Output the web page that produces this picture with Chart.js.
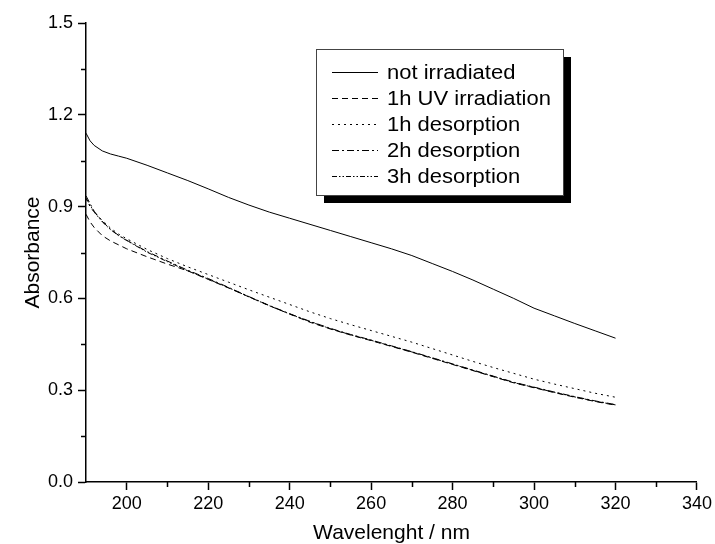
<!DOCTYPE html>
<html lang="en">
<head>
    <meta charset="UTF-8">
    <title>Absorbance spectra</title>
    <script src="https://cdn.jsdelivr.net/npm/chart.js"></script>
    <style>
        html, body { margin: 0; padding: 0; background: #fff; }
        #wrap { width: 715px; height: 544px; }
    </style>
</head>
<body>
    <div id="wrap"><canvas id="absChart" width="715" height="544"></canvas></div>

    <script>
        const wavelength = [190, 191, 192, 194, 196, 198, 200, 205, 210, 215, 220, 225, 230, 235, 240,
                            245, 250, 255, 260, 265, 270, 275, 280, 285, 290, 295, 300, 305, 310, 315, 320];

        const notIrradiated = [1.14, 1.115, 1.100, 1.082, 1.072, 1.065, 1.058, 1.035, 1.010, 0.985, 0.958, 0.930, 0.905, 0.882, 0.862,
                               0.842, 0.822, 0.802, 0.782, 0.762, 0.740, 0.714, 0.688, 0.660, 0.630, 0.600, 0.568, 0.543, 0.518, 0.494, 0.470];
        const uv1h = [0.875, 0.850, 0.832, 0.805, 0.788, 0.775, 0.762, 0.736, 0.712, 0.690, 0.662, 0.634, 0.605, 0.576, 0.549,
                      0.522, 0.500, 0.480, 0.462, 0.443, 0.424, 0.404, 0.384, 0.364, 0.344, 0.324, 0.308, 0.292, 0.277, 0.263, 0.251];
        const desorp1h = [0.925, 0.900, 0.882, 0.855, 0.830, 0.810, 0.795, 0.760, 0.730, 0.703, 0.678, 0.653, 0.628, 0.604, 0.580,
                          0.556, 0.534, 0.514, 0.495, 0.476, 0.457, 0.436, 0.415, 0.394, 0.374, 0.355, 0.336, 0.320, 0.305, 0.290, 0.277];
        const desorp2h = [0.935, 0.910, 0.885, 0.852, 0.826, 0.806, 0.790, 0.753, 0.722, 0.692, 0.665, 0.636, 0.606, 0.577, 0.550,
                          0.525, 0.502, 0.482, 0.464, 0.445, 0.426, 0.406, 0.386, 0.366, 0.346, 0.326, 0.310, 0.294, 0.279, 0.265, 0.253];
        const desorp3h = [0.928, 0.905, 0.882, 0.850, 0.825, 0.805, 0.789, 0.751, 0.720, 0.690, 0.663, 0.635, 0.605, 0.576, 0.549,
                          0.524, 0.501, 0.481, 0.463, 0.444, 0.425, 0.405, 0.385, 0.365, 0.345, 0.325, 0.309, 0.293, 0.278, 0.264, 0.252];

        const seriesLabels = ['not irradiated', '1h UV irradiation', '1h desorption', '2h desorption', '3h desorption'];
        const seriesValues = [notIrradiated, uv1h, desorp1h, desorp2h, desorp3h];
        const seriesDash = [[], [6, 4], [2, 4], [7, 3, 2, 3], [5, 2, 1.5, 2, 1.5, 2]];

        // tick values
        const xMajorTicks = [200, 220, 240, 260, 280, 300, 320, 340];
        const xMinorTicks = [210, 230, 250, 270, 290, 310, 330];
        const yMajorTicks = [0.0, 0.3, 0.6, 0.9, 1.2, 1.5];
        const yMinorTicks = [0.15, 0.45, 0.75, 1.05, 1.35];

        const FONT = "Arial, 'Liberation Sans', sans-serif";

        // minor ticks + boxed legend with drop shadow
        const extrasPlugin = {
            id: 'extras',
            afterDraw(chart) {
                const ctx = chart.ctx;
                const xs = chart.scales.x, ys = chart.scales.y;
                const area = chart.chartArea;
                ctx.save();
                ctx.strokeStyle = '#000';
                ctx.lineWidth = 1.5;
                ctx.beginPath();
                xMinorTicks.forEach(v => {
                    const px = Math.round(xs.getPixelForValue(v)) + 0.5;
                    ctx.moveTo(px, area.bottom);
                    ctx.lineTo(px, area.bottom + 5);
                });
                yMinorTicks.forEach(v => {
                    const py = Math.round(ys.getPixelForValue(v)) + 0.5;
                    ctx.moveTo(area.left, py);
                    ctx.lineTo(area.left - 5, py);
                });
                ctx.stroke();

                // legend box
                const bx = 316, by = 49, bw = 247, bh = 146, sh = 8;
                ctx.fillStyle = '#000';
                ctx.fillRect(bx + sh, by + sh, bw, bh);
                ctx.fillStyle = '#fff';
                ctx.fillRect(bx, by, bw, bh);
                ctx.strokeStyle = '#444';
                ctx.lineWidth = 1;
                ctx.strokeRect(bx + 0.5, by + 0.5, bw, bh);

                ctx.font = '20px ' + FONT;
                ctx.textBaseline = 'middle';
                ctx.fillStyle = '#000';
                chart.data.datasets.forEach((ds, i) => {
                    const y = 72 + i * 26;
                    ctx.beginPath();
                    ctx.setLineDash(ds.borderDash || []);
                    ctx.lineWidth = 1;
                    ctx.strokeStyle = '#000';
                    ctx.moveTo(332, y + 0.5);
                    ctx.lineTo(378, y + 0.5);
                    ctx.stroke();
                    ctx.setLineDash([]);
                    // text in the reference is a little wider than Arial
                    ctx.save();
                    ctx.translate(387, y + 1);
                    ctx.scale(1.1, 1);
                    ctx.fillText(ds.label, 0, 0);
                    ctx.restore();
                });
                ctx.restore();
            }
        };

        const ctx = document.getElementById('absChart').getContext('2d');
        const absChart = new Chart(ctx, {
            type: 'line',
            data: {
                datasets: seriesLabels.map((label, i) => ({
                    label: label,
                    data: wavelength.map((w, j) => ({ x: w, y: seriesValues[i][j] })),
                    borderColor: '#000',
                    borderWidth: 1,
                    borderDash: seriesDash[i],
                    pointRadius: 0,
                    fill: false,
                    tension: 0
                }))
            },
            options: {
                responsive: false,
                animation: false,
                layout: { padding: { left: 0, right: 17, top: 23, bottom: 0 } },
                plugins: {
                    legend: { display: false },
                    tooltip: { enabled: false }
                },
                scales: {
                    x: {
                        type: 'linear',
                        min: 190,
                        max: 340,
                        afterFit: s => { s.height = 62; },
                        afterBuildTicks: s => { s.ticks = xMajorTicks.map(v => ({ value: v })); },
                        border: { display: true, color: '#000', width: 1.5 },
                        grid: { drawOnChartArea: false, drawTicks: true, tickLength: 8, tickColor: '#000', tickWidth: 1.5 },
                        ticks: { color: '#000', padding: 3, font: { size: 18, family: FONT }, maxRotation: 0 },
                        title: { display: true, text: 'Wavelenght / nm', color: '#000',
                                 font: { size: 21, family: FONT, lineHeight: 1 }, padding: { top: 0, bottom: 0 } }
                    },
                    y: {
                        min: 0,
                        max: 1.5,
                        afterFit: s => { s.width = 86; },
                        afterBuildTicks: s => { s.ticks = yMajorTicks.map(v => ({ value: v })); },
                        border: { display: true, color: '#000', width: 1.5 },
                        grid: { drawOnChartArea: false, drawTicks: true, tickLength: 8, tickColor: '#000', tickWidth: 1.5 },
                        ticks: { color: '#000', padding: 5, font: { size: 18, family: FONT },
                                 callback: v => v.toFixed(1) },
                        title: { display: true, text: 'Absorbance', color: '#000',
                                 font: { size: 21, family: FONT, lineHeight: 1 }, padding: { top: 23, bottom: 0 } }
                    }
                }
            },
            plugins: [extrasPlugin]
        });
    </script>
</body>
</html>
